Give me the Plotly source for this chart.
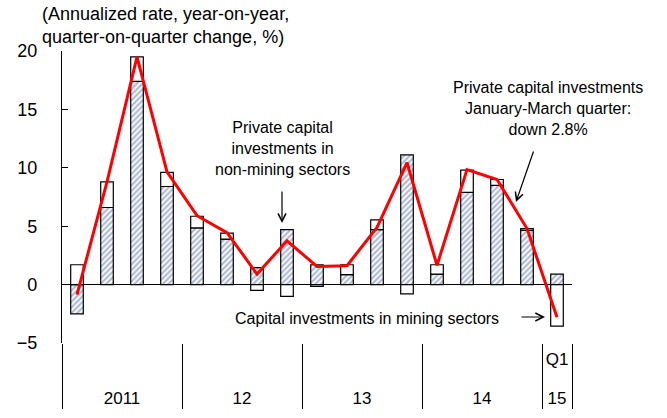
import plotly.graph_objects as go

years = ["2011"] * 4 + ["12"] * 4 + ["13"] * 4 + ["14"] * 4 + ["15"]
quarters = ["\u200b", "\u200b\u200b", "\u200b\u200b\u200b", "\u200b\u200b\u200b\u200b"] * 4 + ["Q1<br>\u00a0"]

non_mining = [-2.5, 6.6, 17.4, 8.4, 4.85, 3.9, 1.45, 4.7, 1.7, 0.85, 4.7, 11.1, 0.9, 7.9, 8.5, 4.65, 0.9]
mining = [1.7, 2.2, 2.1, 1.2, 1.0, 0.5, -0.5, -1.0, -0.15, 0.85, 0.85, -0.8, 0.8, 1.9, 0.5, 0.15, -3.55]
total = [-0.85, 8.8, 19.5, 9.65, 5.9, 4.45, 0.9, 3.75, 1.55, 1.62, 4.9, 10.45, 1.65, 9.85, 9.0, 4.8, -2.8]

L, R, T, B = 62, 95, 51, 75
W, H = 667, 418


def px(x):
    return (x - L) / (W - L - R)


def py(y):
    return (H - B - y) / (H - T - B)


fig = go.Figure()
fig.add_trace(go.Bar(x=[years, quarters], y=non_mining, width=0.42,
                     marker=dict(color="white", line=dict(color="black", width=1.2),
                                 pattern=dict(shape="/", fgcolor="#6378a0", size=4, solidity=0.55)),
                     name="non-mining"))
fig.add_trace(go.Bar(x=[years, quarters], y=mining, width=0.42,
                     marker=dict(color="white", line=dict(color="black", width=1.2)),
                     name="mining"))
fig.add_trace(go.Scatter(x=[years, quarters], y=total, mode="lines",
                         line=dict(color="#ff0000", width=3), name="total"))

font = "Liberation Sans, Arial, sans-serif"
anns = [
    dict(x=px(40), y=py(2), xanchor="left", yanchor="top", align="left",
         text="(Annualized rate, year-on-year,<br>quarter-on-quarter change, %)", font=dict(size=18)),
    dict(x=px(282), y=py(117), xanchor="center", yanchor="top",
         text="Private capital<br>investments in<br>non-mining sectors", font=dict(size=16)),
    dict(x=px(548), y=py(77), xanchor="center", yanchor="top",
         text="Private capital investments<br>January-March quarter:<br>down 2.8%", font=dict(size=16)),
    dict(x=px(367), y=py(318), xanchor="center", yanchor="middle",
         text="Capital investments in mining sectors", font=dict(size=16)),
]
for a in anns:
    a.update(xref="paper", yref="paper", showarrow=False)
arrows = [
    ((282, 223), (0, -33)),
    ((516, 202), (18, -52)),
    ((545, 317), (-25, 0)),
]
for (hx, hy), (dx, dy) in arrows:
    anns.append(dict(xref="paper", yref="paper", x=px(hx), y=py(hy), ax=dx, ay=dy,
                     text="", showarrow=True, arrowhead=5, arrowsize=1.3, arrowwidth=1.2,
                     arrowcolor="black"))

fig.update_layout(
    width=W, height=H, margin=dict(l=L, r=R, t=T, b=B),
    barmode="relative", bargap=0.58, showlegend=False,
    plot_bgcolor="white", paper_bgcolor="white",
    font=dict(family=font, color="black"),
    annotations=anns,
    xaxis=dict(type="multicategory", showgrid=False, showline=False, ticks="",
               showdividers=True, dividercolor="black", dividerwidth=1.2,
               automargin=False, tickangle=0, ticklabelstandoff=4,
               tickfont=dict(size=17)),
    yaxis=dict(range=[-5, 20], tickvals=[-5, 0, 5, 10, 15, 20], showgrid=False,
               showline=True, linecolor="black", linewidth=1.2, ticks="inside", ticklen=6,
               tickcolor="black", zeroline=True, zerolinecolor="black", zerolinewidth=1.2,
               automargin=False, tickfont=dict(size=18), ticklabelstandoff=20),
)
fig.write_html("out.html", config={"displayModeBar": False},
               post_script="document.body.style.margin='0';")
